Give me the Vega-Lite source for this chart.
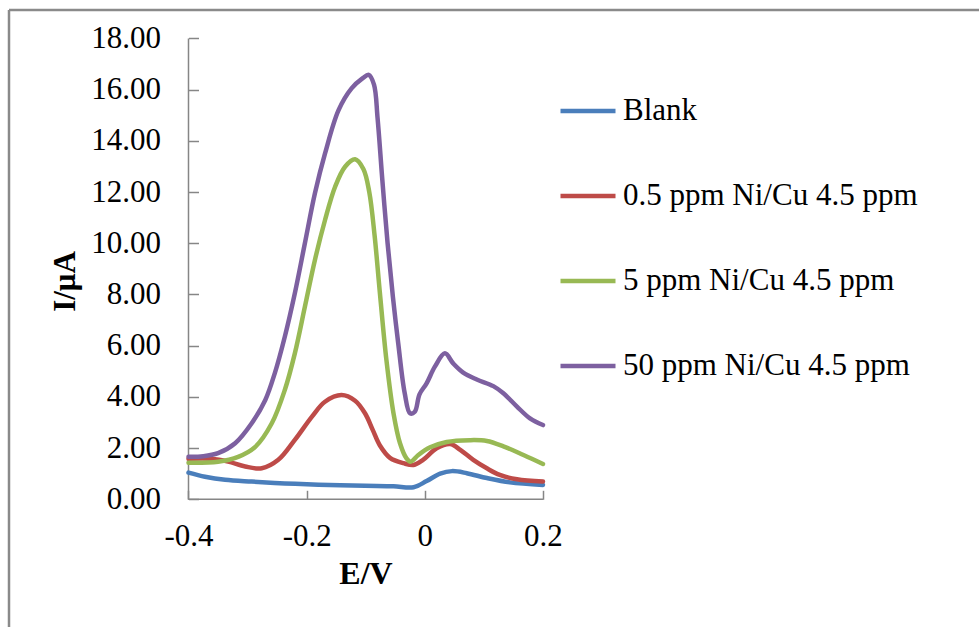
{
  "$schema": "https://vega.github.io/schema/vega-lite/v6.json",
  "width": 970,
  "height": 617,
  "autosize": {"type": "none"},
  "padding": {"left": 9, "top": 10, "right": 0, "bottom": 0},
  "background": "white",
  "config": {
    "view": {"stroke": null},
    "font": "Liberation Serif"
  },
  "datasets": {
    "curves": [
      {"series": "Blank", "E": -0.4, "I": 1.04},
      {"series": "Blank", "E": -0.372, "I": 0.88},
      {"series": "Blank", "E": -0.338, "I": 0.76},
      {"series": "Blank", "E": -0.293, "I": 0.69},
      {"series": "Blank", "E": -0.237, "I": 0.62},
      {"series": "Blank", "E": -0.18, "I": 0.57},
      {"series": "Blank", "E": -0.101, "I": 0.53},
      {"series": "Blank", "E": -0.053, "I": 0.51},
      {"series": "Blank", "E": -0.019, "I": 0.47},
      {"series": "Blank", "E": 0.003, "I": 0.71},
      {"series": "Blank", "E": 0.026, "I": 1.0},
      {"series": "Blank", "E": 0.046, "I": 1.1},
      {"series": "Blank", "E": 0.071, "I": 1.02},
      {"series": "Blank", "E": 0.105, "I": 0.83},
      {"series": "Blank", "E": 0.144, "I": 0.66},
      {"series": "Blank", "E": 0.2, "I": 0.56},

      {"series": "0.5 ppm Ni/Cu 4.5 ppm", "E": -0.4, "I": 1.58},
      {"series": "0.5 ppm Ni/Cu 4.5 ppm", "E": -0.361, "I": 1.58},
      {"series": "0.5 ppm Ni/Cu 4.5 ppm", "E": -0.333, "I": 1.47},
      {"series": "0.5 ppm Ni/Cu 4.5 ppm", "E": -0.304, "I": 1.28},
      {"series": "0.5 ppm Ni/Cu 4.5 ppm", "E": -0.276, "I": 1.21},
      {"series": "0.5 ppm Ni/Cu 4.5 ppm", "E": -0.248, "I": 1.54},
      {"series": "0.5 ppm Ni/Cu 4.5 ppm", "E": -0.22, "I": 2.32},
      {"series": "0.5 ppm Ni/Cu 4.5 ppm", "E": -0.191, "I": 3.23},
      {"series": "0.5 ppm Ni/Cu 4.5 ppm", "E": -0.169, "I": 3.81},
      {"series": "0.5 ppm Ni/Cu 4.5 ppm", "E": -0.141, "I": 4.07},
      {"series": "0.5 ppm Ni/Cu 4.5 ppm", "E": -0.118, "I": 3.85},
      {"series": "0.5 ppm Ni/Cu 4.5 ppm", "E": -0.101, "I": 3.35},
      {"series": "0.5 ppm Ni/Cu 4.5 ppm", "E": -0.088, "I": 2.7},
      {"series": "0.5 ppm Ni/Cu 4.5 ppm", "E": -0.076, "I": 2.1},
      {"series": "0.5 ppm Ni/Cu 4.5 ppm", "E": -0.059, "I": 1.62},
      {"series": "0.5 ppm Ni/Cu 4.5 ppm", "E": -0.036, "I": 1.41},
      {"series": "0.5 ppm Ni/Cu 4.5 ppm", "E": -0.019, "I": 1.34},
      {"series": "0.5 ppm Ni/Cu 4.5 ppm", "E": -0.003, "I": 1.54},
      {"series": "0.5 ppm Ni/Cu 4.5 ppm", "E": 0.02, "I": 1.99},
      {"series": "0.5 ppm Ni/Cu 4.5 ppm", "E": 0.043, "I": 2.16},
      {"series": "0.5 ppm Ni/Cu 4.5 ppm", "E": 0.06, "I": 1.93},
      {"series": "0.5 ppm Ni/Cu 4.5 ppm", "E": 0.082, "I": 1.54},
      {"series": "0.5 ppm Ni/Cu 4.5 ppm", "E": 0.105, "I": 1.21},
      {"series": "0.5 ppm Ni/Cu 4.5 ppm", "E": 0.127, "I": 0.95},
      {"series": "0.5 ppm Ni/Cu 4.5 ppm", "E": 0.156, "I": 0.78},
      {"series": "0.5 ppm Ni/Cu 4.5 ppm", "E": 0.2, "I": 0.69},

      {"series": "5 ppm Ni/Cu 4.5 ppm", "E": -0.4, "I": 1.43},
      {"series": "5 ppm Ni/Cu 4.5 ppm", "E": -0.35, "I": 1.47},
      {"series": "5 ppm Ni/Cu 4.5 ppm", "E": -0.316, "I": 1.66},
      {"series": "5 ppm Ni/Cu 4.5 ppm", "E": -0.287, "I": 2.05},
      {"series": "5 ppm Ni/Cu 4.5 ppm", "E": -0.259, "I": 2.97},
      {"series": "5 ppm Ni/Cu 4.5 ppm", "E": -0.237, "I": 4.27},
      {"series": "5 ppm Ni/Cu 4.5 ppm", "E": -0.22, "I": 5.7},
      {"series": "5 ppm Ni/Cu 4.5 ppm", "E": -0.203, "I": 7.52},
      {"series": "5 ppm Ni/Cu 4.5 ppm", "E": -0.186, "I": 9.35},
      {"series": "5 ppm Ni/Cu 4.5 ppm", "E": -0.169, "I": 10.9},
      {"series": "5 ppm Ni/Cu 4.5 ppm", "E": -0.152, "I": 12.2},
      {"series": "5 ppm Ni/Cu 4.5 ppm", "E": -0.135, "I": 12.99},
      {"series": "5 ppm Ni/Cu 4.5 ppm", "E": -0.118, "I": 13.28},
      {"series": "5 ppm Ni/Cu 4.5 ppm", "E": -0.104, "I": 12.9},
      {"series": "5 ppm Ni/Cu 4.5 ppm", "E": -0.094, "I": 12.0},
      {"series": "5 ppm Ni/Cu 4.5 ppm", "E": -0.085, "I": 10.3},
      {"series": "5 ppm Ni/Cu 4.5 ppm", "E": -0.076, "I": 8.05},
      {"series": "5 ppm Ni/Cu 4.5 ppm", "E": -0.065, "I": 5.44},
      {"series": "5 ppm Ni/Cu 4.5 ppm", "E": -0.053, "I": 3.36},
      {"series": "5 ppm Ni/Cu 4.5 ppm", "E": -0.042, "I": 2.19},
      {"series": "5 ppm Ni/Cu 4.5 ppm", "E": -0.031, "I": 1.6},
      {"series": "5 ppm Ni/Cu 4.5 ppm", "E": -0.024, "I": 1.47},
      {"series": "5 ppm Ni/Cu 4.5 ppm", "E": -0.011, "I": 1.73},
      {"series": "5 ppm Ni/Cu 4.5 ppm", "E": 0.009, "I": 2.03},
      {"series": "5 ppm Ni/Cu 4.5 ppm", "E": 0.037, "I": 2.24},
      {"series": "5 ppm Ni/Cu 4.5 ppm", "E": 0.076, "I": 2.31},
      {"series": "5 ppm Ni/Cu 4.5 ppm", "E": 0.105, "I": 2.28},
      {"series": "5 ppm Ni/Cu 4.5 ppm", "E": 0.133, "I": 2.07},
      {"series": "5 ppm Ni/Cu 4.5 ppm", "E": 0.167, "I": 1.73},
      {"series": "5 ppm Ni/Cu 4.5 ppm", "E": 0.2, "I": 1.38},

      {"series": "50 ppm Ni/Cu 4.5 ppm", "E": -0.4, "I": 1.66},
      {"series": "50 ppm Ni/Cu 4.5 ppm", "E": -0.375, "I": 1.68},
      {"series": "50 ppm Ni/Cu 4.5 ppm", "E": -0.35, "I": 1.8},
      {"series": "50 ppm Ni/Cu 4.5 ppm", "E": -0.321, "I": 2.19},
      {"series": "50 ppm Ni/Cu 4.5 ppm", "E": -0.293, "I": 2.97},
      {"series": "50 ppm Ni/Cu 4.5 ppm", "E": -0.27, "I": 3.88},
      {"series": "50 ppm Ni/Cu 4.5 ppm", "E": -0.254, "I": 4.92},
      {"series": "50 ppm Ni/Cu 4.5 ppm", "E": -0.237, "I": 6.35},
      {"series": "50 ppm Ni/Cu 4.5 ppm", "E": -0.22, "I": 8.05},
      {"series": "50 ppm Ni/Cu 4.5 ppm", "E": -0.203, "I": 10.0},
      {"series": "50 ppm Ni/Cu 4.5 ppm", "E": -0.186, "I": 11.95},
      {"series": "50 ppm Ni/Cu 4.5 ppm", "E": -0.169, "I": 13.5},
      {"series": "50 ppm Ni/Cu 4.5 ppm", "E": -0.146, "I": 15.2},
      {"series": "50 ppm Ni/Cu 4.5 ppm", "E": -0.124, "I": 16.05},
      {"series": "50 ppm Ni/Cu 4.5 ppm", "E": -0.105, "I": 16.45},
      {"series": "50 ppm Ni/Cu 4.5 ppm", "E": -0.095, "I": 16.58},
      {"series": "50 ppm Ni/Cu 4.5 ppm", "E": -0.086, "I": 16.2},
      {"series": "50 ppm Ni/Cu 4.5 ppm", "E": -0.08, "I": 14.9},
      {"series": "50 ppm Ni/Cu 4.5 ppm", "E": -0.072, "I": 12.5},
      {"series": "50 ppm Ni/Cu 4.5 ppm", "E": -0.063, "I": 10.0},
      {"series": "50 ppm Ni/Cu 4.5 ppm", "E": -0.054, "I": 7.9},
      {"series": "50 ppm Ni/Cu 4.5 ppm", "E": -0.045, "I": 6.09},
      {"series": "50 ppm Ni/Cu 4.5 ppm", "E": -0.034, "I": 4.14},
      {"series": "50 ppm Ni/Cu 4.5 ppm", "E": -0.025, "I": 3.36},
      {"series": "50 ppm Ni/Cu 4.5 ppm", "E": -0.017, "I": 3.42},
      {"series": "50 ppm Ni/Cu 4.5 ppm", "E": -0.009, "I": 4.1},
      {"series": "50 ppm Ni/Cu 4.5 ppm", "E": 0.003, "I": 4.53},
      {"series": "50 ppm Ni/Cu 4.5 ppm", "E": 0.017, "I": 5.18},
      {"series": "50 ppm Ni/Cu 4.5 ppm", "E": 0.034, "I": 5.7},
      {"series": "50 ppm Ni/Cu 4.5 ppm", "E": 0.048, "I": 5.31},
      {"series": "50 ppm Ni/Cu 4.5 ppm", "E": 0.065, "I": 4.95},
      {"series": "50 ppm Ni/Cu 4.5 ppm", "E": 0.088, "I": 4.68},
      {"series": "50 ppm Ni/Cu 4.5 ppm", "E": 0.116, "I": 4.42},
      {"series": "50 ppm Ni/Cu 4.5 ppm", "E": 0.133, "I": 4.14},
      {"series": "50 ppm Ni/Cu 4.5 ppm", "E": 0.156, "I": 3.62},
      {"series": "50 ppm Ni/Cu 4.5 ppm", "E": 0.178, "I": 3.16},
      {"series": "50 ppm Ni/Cu 4.5 ppm", "E": 0.2, "I": 2.9}
    ]
  },
  "layer": [
    {
      "description": "outer frame, left edge",
      "data": {"values": [{}]},
      "mark": {"type": "rule", "color": "#8a8a8a", "strokeWidth": 2.5},
      "encoding": {
        "x": {"datum": -0.70382, "type": "quantitative"},
        "y": {"datum": -4.989, "type": "quantitative"},
        "y2": {"datum": 19.113}
      }
    },
    {
      "description": "outer frame, top edge",
      "data": {"values": [{}]},
      "mark": {"type": "rule", "color": "#8a8a8a", "strokeWidth": 2.5},
      "encoding": {
        "y": {"datum": 19.113, "type": "quantitative"},
        "x": {"datum": -0.70382, "type": "quantitative"},
        "x2": {"datum": 0.93802}
      }
    },
    {
      "description": "y axis line",
      "data": {"values": [{}]},
      "mark": {"type": "rule", "color": "#868686", "strokeWidth": 1.5},
      "encoding": {
        "x": {"datum": -0.4, "type": "quantitative"},
        "y": {"datum": 0, "type": "quantitative"},
        "y2": {"datum": 18}
      }
    },
    {
      "description": "x axis line",
      "data": {"values": [{}]},
      "mark": {"type": "rule", "color": "#868686", "strokeWidth": 1.5},
      "encoding": {
        "y": {"datum": 0, "type": "quantitative"},
        "x": {"datum": -0.4, "type": "quantitative"},
        "x2": {"datum": 0.2}
      }
    },
    {
      "data": {"name": "curves"},
      "mark": {"type": "line", "interpolate": "catmull-rom", "strokeWidth": 4.5, "strokeCap": "round", "strokeJoin": "round"},
      "encoding": {
        "x": {
          "field": "E",
          "type": "quantitative",
          "scale": {"domain": [-0.70382, 0.93802], "nice": false, "zero": false},
          "axis": {
            "orient": "bottom",
            "offset": -127.7,
            "values": [-0.4, -0.2, 0, 0.2],
            "domain": false,
            "grid": false,
            "tickSize": -9,
            "tickColor": "#868686",
            "tickWidth": 1.5,
            "labelFont": "Liberation Serif",
            "labelFontSize": 31,
            "labelColor": "#000000",
            "labelPadding": 31,
            "labelOverlap": false,
            "labelFlush": false,
            "labelBound": false,
            "labelExpr": "(datum.value < 0 ? '-' : '') + format(abs(datum.value), '~g')",
            "title": "E/V",
            "titleFont": "Liberation Serif",
            "titleFontSize": 32,
            "titleFontWeight": "bold",
            "titleColor": "#000000",
            "titleX": 356.5,
            "titleY": 83.7,
            "titleAlign": "center",
            "titleBaseline": "alphabetic"
          }
        },
        "y": {
          "field": "I",
          "type": "quantitative",
          "scale": {"domain": [-4.989, 19.113], "nice": false, "zero": false},
          "axis": {
            "orient": "left",
            "offset": -179.5,
            "values": [0, 2, 4, 6, 8, 10, 12, 14, 16, 18],
            "format": ".2f",
            "domain": false,
            "grid": false,
            "tickSize": -10,
            "tickColor": "#868686",
            "tickWidth": 1.5,
            "labelFont": "Liberation Serif",
            "labelFontSize": 31,
            "labelColor": "#000000",
            "labelPadding": 38,
            "labelOverlap": false,
            "labelFlush": false,
            "labelBound": false,
            "title": "I/μA",
            "titleFont": "Liberation Serif",
            "titleFontSize": 31,
            "titleFontWeight": "bold",
            "titleColor": "#000000",
            "titleAngle": 270,
            "titleX": -114.5,
            "titleY": 271,
            "titleAlign": "center",
            "titleBaseline": "alphabetic"
          }
        },
        "color": {
          "field": "series",
          "type": "nominal",
          "scale": {
            "domain": ["Blank", "0.5 ppm Ni/Cu 4.5 ppm", "5 ppm Ni/Cu 4.5 ppm", "50 ppm Ni/Cu 4.5 ppm"],
            "range": ["#4a7ebb", "#be4b48", "#98b954", "#7d60a0"]
          },
          "legend": {
            "orient": "none",
            "legendX": 549,
            "legendY": 71,
            "title": null,
            "padding": 0,
            "symbolType": "stroke",
            "symbolSize": 3025,
            "symbolStrokeWidth": 4.5,
            "labelOffset": 5,
            "labelFont": "Liberation Serif",
            "labelFontSize": 31,
            "labelColor": "#000000",
            "labelLimit": 500,
            "rowPadding": 40
          }
        }
      }
    }
  ]
}
